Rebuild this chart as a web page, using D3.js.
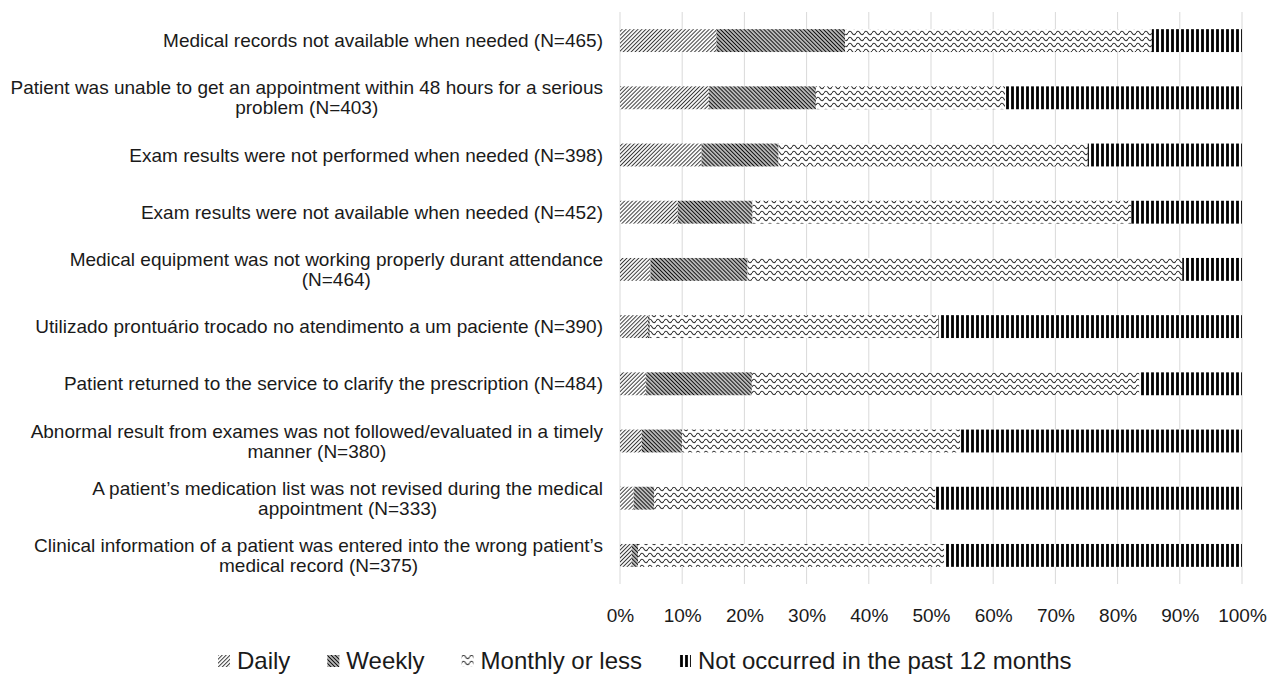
<!DOCTYPE html>
<html>
<head>
<meta charset="utf-8">
<script src="https://cdn.jsdelivr.net/npm/d3@7"></script>
<style>
  body { margin: 0; background: #fff; }
  svg { display: block; font-family: "Liberation Sans", Arial, sans-serif; }
</style>
</head>
<body>
<svg id="chart" width="1269" height="677"></svg>
<script>
// categories, top to bottom (line breaks as in the original)
const categories = [
  "Medical records not available when needed (N=465)",
  "Patient was unable to get an appointment within 48 hours for a serious\nproblem (N=403)",
  "Exam results were not performed when needed (N=398)",
  "Exam results were not available when needed (N=452)",
  "Medical equipment was not working properly durant attendance\n(N=464)",
  "Utilizado prontuário trocado no atendimento a um paciente (N=390)",
  "Patient returned to the service to clarify the prescription (N=484)",
  "Abnormal result from exames was not followed/evaluated in a timely\nmanner (N=380)",
  "A patient’s medication list was not revised during the medical\nappointment (N=333)",
  "Clinical information of a patient was entered into the wrong patient’s\nmedical record (N=375)"
]
// percentages per series
const daily       = [15.5, 14.3, 13.1,  9.3,  4.9,  4.5,  4.2,  3.5,  2.2,  1.9]
const weekly      = [20.7, 17.2, 12.4, 12.0, 15.6,  0.3, 17.0,  6.5,  3.3,  1.0]
const monthly     = [49.3, 30.4, 49.7, 60.9, 69.9, 46.4, 62.3, 44.7, 45.2, 49.2]
const notOccurred = [14.5, 38.1, 24.8, 17.8,  9.6, 48.8, 16.5, 45.3, 49.3, 47.9]
const seriesNames = ["Daily", "Weekly", "Monthly or less", "Not occurred in the past 12 months"]
const tickValues = [0, 10, 20, 30, 40, 50, 60, 70, 80, 90, 100]

const seriesKeys = ["daily", "weekly", "monthly", "notOccurred"]
const table = categories.map((c, i) => ({
  category: c,
  daily: daily[i], weekly: weekly[i], monthly: monthly[i], notOccurred: notOccurred[i]
}))

let margin = ({top: 12, right: 27, bottom: 93, left: 620})
const width = 1269, height = 677
const svg = d3.select("#chart")

// hatch patterns
const defs = svg.append("defs")
function lines(id, size, angle, stroke, sw) {
  const p = defs.append("pattern")
    .attr("id", id).attr("patternUnits", "userSpaceOnUse")
    .attr("width", size).attr("height", size)
    .attr("patternTransform", `rotate(${angle})`)
  p.append("rect").attr("width", size).attr("height", size).attr("fill", "#fff")
  p.append("line").attr("x1", size / 2).attr("x2", size / 2).attr("y1", 0).attr("y2", size)
    .attr("stroke", stroke).attr("stroke-width", sw)
}
lines("p-daily", 2.8, 45, "#3a3a3a", 1.0)
lines("p-weekly", 2.8, -45, "#111", 1.5)
lines("p-not", 5, 0, "#000", 2.8)
const wave = defs.append("pattern")
  .attr("id", "p-monthly").attr("patternUnits", "userSpaceOnUse")
  .attr("width", 8).attr("height", 6)
wave.append("rect").attr("width", 8).attr("height", 6).attr("fill", "#fff")
wave.append("path").attr("d", "M0,3 Q2,-0.5 4,3 T8,3")
  .attr("fill", "none").attr("stroke", "#333").attr("stroke-width", 1.1)
const fills = {daily: "url(#p-daily)", weekly: "url(#p-weekly)", monthly: "url(#p-monthly)", notOccurred: "url(#p-not)"}

let x = d3.scaleLinear().domain([0, 100]).range([margin.left, width - margin.right])
let y = d3.scaleBand()
  .domain(d3.range(categories.length))
  .range([margin.top, height - margin.bottom])
  .paddingInner(0.6).paddingOuter(0.3)

// gridlines
svg.append("g")
  .selectAll("line")
  .data(tickValues)
  .join("line")
  .attr("x1", d => x(d)).attr("x2", d => x(d))
  .attr("y1", margin.top).attr("y2", height - margin.bottom)
  .attr("stroke", "#d9d9d9").attr("stroke-width", 1)

// stacked bars
const stacked = d3.stack().keys(seriesKeys)(table)
svg.append("g")
  .selectAll("g")
  .data(stacked)
  .join("g")
  .attr("fill", d => fills[d.key])
  .selectAll("rect")
  .data(d => d)
  .join("rect")
  .attr("x", d => x(d[0]))
  .attr("y", (d, i) => y(i))
  .attr("width", d => Math.max(0, x(d[1]) - x(d[0])))
  .attr("height", y.bandwidth())

// x axis labels
const xAxis = g => g
  .attr("transform", `translate(0,${height - margin.bottom + 31})`)
  .call(d3.axisBottom(x).tickValues(tickValues).tickFormat(d => d + "%").tickSize(0).tickPadding(0))
  .call(g => g.select(".domain").remove())
svg.append("g").call(xAxis)
  .attr("font-family", null)
  .attr("font-size", 19)
  .selectAll("text").attr("fill", "#1a1a1a").attr("dy", "0.35em")

// category labels: block right aligned, lines centered
const labelRight = 603, lineH = 20
const lab = svg.append("g").attr("font-size", 19).attr("fill", "#1a1a1a")
table.forEach((d, i) => {
  const parts = d.category.split("\n")
  const g = lab.append("g")
  const texts = parts.map((t, k) => g.append("text")
    .attr("y", y(i) + y.bandwidth() / 2 + (k - (parts.length - 1) / 2) * lineH)
    .attr("dy", "0.35em").attr("text-anchor", "middle").text(t))
  const maxW = d3.max(texts, t => t.node().getComputedTextLength())
  texts.forEach(t => t.attr("x", labelRight - maxW / 2))
})

// legend
const legY = 661
const leg = svg.append("g").attr("font-size", 24).attr("fill", "#1a1a1a")
let cx = 218
seriesKeys.forEach((k, i) => {
  const g = leg.append("g").attr("transform", `translate(${cx},0)`)
  g.append("rect").attr("x", 0).attr("y", legY - 6).attr("width", 12).attr("height", 12).attr("fill", fills[k])
  const t = g.append("text").attr("x", 19).attr("y", legY).attr("dy", "0.35em").text(seriesNames[i])
  cx += 19 + t.node().getComputedTextLength() + 37
})
</script>
</body>
</html>
